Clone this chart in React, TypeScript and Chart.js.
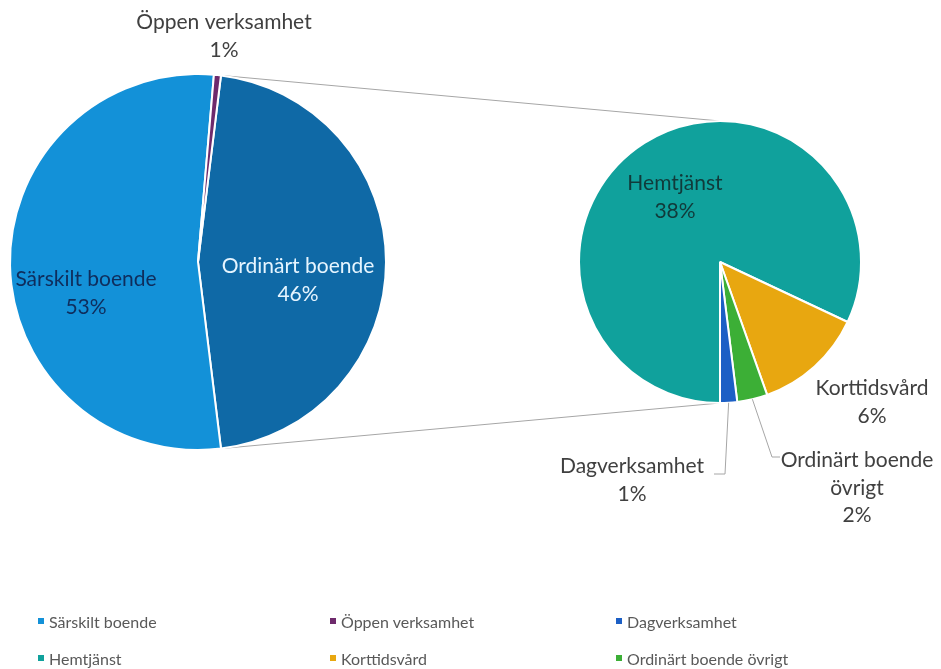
import React, { useEffect, useRef } from "react";
import { Chart, registerables } from "chart.js";

Chart.register(...registerables);

// ---- Data ----
const mainLabels = ["Ordinärt boende", "Särskilt boende", "Öppen verksamhet"];
const mainValues = [46.1, 53.3, 0.6];
const mainColors = ["#0f69a6", "#1391d8", "#6e2a6c"];

const subLabels = ["Hemtjänst", "Korttidsvård", "Ordinärt boende övrigt", "Dagverksamhet"];
const subValues = [37.8, 5.8, 1.6, 0.9];
const subColors = ["#10a19c", "#e8a710", "#3caf36", "#1c5fc5"];

const legendLabels = [
  "Särskilt boende",
  "Öppen verksamhet",
  "Dagverksamhet",
  "Hemtjänst",
  "Korttidsvård",
  "Ordinärt boende övrigt",
];
const legendColors = ["#1391d8", "#6e2a6c", "#1c5fc5", "#10a19c", "#e8a710", "#3caf36"];

// ---- Layout (not data) ----
const W = 941;
const H = 669;
const MAIN_C = { x: 198, y: 262, r: 188 };
const SUB_C = { x: 720, y: 262, r: 141 };
const FONT = "Lato, 'Open Sans', sans-serif";
const LABEL_SIZE = 21;
const LINE_H = 27.5;

type LabelLayout = { dx: number; dy: number; color: string; lines?: string[]; leader?: number[][] };

// label positions relative to pie centre, indexed like the data
const mainLabelLayout: LabelLayout[] = [
  { dx: 100, dy: 18, color: "#e6f5ff" },
  { dx: -112, dy: 31, color: "#0f2d5c" },
  { dx: 26, dy: -226, color: "#404040" },
];
const subLabelLayout: LabelLayout[] = [
  { dx: -45, dy: -65, color: "#113a3a" },
  { dx: 152, dy: 140, color: "#404040" },
  { dx: 137, dy: 226, color: "#404040", lines: ["Ordinärt boende", "övrigt"], leader: [[52, 195], [60, 195]] },
  { dx: -88, dy: 218, color: "#404040", leader: [[5, 212], [-6, 212]] },
];

function pct(v: number, total: number) {
  return Math.round((v / total) * 100) + "%";
}

function makeLabelPlugin(
  id: string,
  labels: string[],
  values: number[],
  total: number,
  layout: LabelLayout[]
) {
  return {
    id,
    afterDraw(chart: any) {
      const ctx = chart.ctx as CanvasRenderingContext2D;
      const meta = chart.getDatasetMeta(0);
      ctx.save();
      ctx.font = `${LABEL_SIZE}px ${FONT}`;
      ctx.textAlign = "center";
      ctx.textBaseline = "middle";
      meta.data.forEach((arc: any, i: number) => {
        const L = layout[i];
        const cx = arc.x;
        const cy = arc.y;
        if (L.leader) {
          const mid = (arc.startAngle + arc.endAngle) / 2;
          const r = arc.outerRadius;
          ctx.strokeStyle = "#a6a6a6";
          ctx.lineWidth = 1;
          ctx.beginPath();
          ctx.moveTo(cx + r * Math.cos(mid), cy + r * Math.sin(mid));
          L.leader.forEach((p) => ctx.lineTo(cx + p[0], cy + p[1]));
          ctx.stroke();
        }
        const lines = [...(L.lines || [labels[i]]), pct(values[i], total)];
        const y0 = cy + L.dy - ((lines.length - 1) * LINE_H) / 2;
        ctx.fillStyle = L.color;
        lines.forEach((t, k) => ctx.fillText(t, cx + L.dx, y0 + k * LINE_H));
      });
      ctx.restore();
    },
  };
}

const totalAll = mainValues.reduce((a, b) => a + b, 0);

export default function App() {
  const lineRef = useRef<HTMLCanvasElement>(null);
  const mainRef = useRef<HTMLCanvasElement>(null);
  const subRef = useRef<HTMLCanvasElement>(null);

  useEffect(() => {
    const otherShare = mainValues[0] / totalAll;
    const mainChart = new Chart(mainRef.current!, {
      type: "pie",
      data: {
        labels: mainLabels,
        datasets: [
          {
            data: mainValues,
            backgroundColor: mainColors,
            borderColor: "#ffffff",
            borderWidth: 2,
          },
        ],
      },
      options: {
        responsive: false,
        animation: false,
        rotation: 90 - otherShare * 180,
        radius: MAIN_C.r,
        layout: {
          padding: { left: 0, top: 0, right: W - 2 * MAIN_C.x, bottom: H - 2 * MAIN_C.y },
        },
        plugins: { legend: { display: false }, tooltip: { enabled: false } },
      },
      plugins: [makeLabelPlugin("mainLabels", mainLabels, mainValues, totalAll, mainLabelLayout)],
    });

    const subChart = new Chart(subRef.current!, {
      type: "pie",
      data: {
        labels: subLabels,
        datasets: [
          {
            data: subValues,
            backgroundColor: subColors,
            borderColor: "#ffffff",
            borderWidth: 2,
          },
        ],
      },
      options: {
        responsive: false,
        animation: false,
        rotation: 180,
        radius: SUB_C.r,
        layout: {
          padding: { left: 2 * SUB_C.x - W, top: 0, right: 0, bottom: H - 2 * SUB_C.y },
        },
        plugins: { legend: { display: false }, tooltip: { enabled: false } },
      },
      plugins: [makeLabelPlugin("subLabels", subLabels, subValues, totalAll, subLabelLayout)],
    });

    // connector lines between the "other" slice and the secondary pie
    const lc = lineRef.current!;
    const ctx = lc.getContext("2d")!;
    ctx.clearRect(0, 0, W, H);
    const a: any = mainChart.getDatasetMeta(0).data[0];
    const s: any = subChart.getDatasetMeta(0).data[0];
    const p1 = { x: a.x + a.outerRadius * Math.cos(a.startAngle), y: a.y + a.outerRadius * Math.sin(a.startAngle) };
    const p2 = { x: a.x + a.outerRadius * Math.cos(a.endAngle), y: a.y + a.outerRadius * Math.sin(a.endAngle) };
    const q1 = { x: s.x, y: s.y - s.outerRadius };
    const q2 = { x: s.x, y: s.y + s.outerRadius };
    ctx.strokeStyle = "#a6a6a6";
    ctx.lineWidth = 1;
    ctx.beginPath();
    ctx.moveTo(p1.x, p1.y);
    ctx.lineTo(q1.x, q1.y);
    ctx.moveTo(p2.x, p2.y);
    ctx.lineTo(q2.x, q2.y);
    ctx.stroke();

    return () => {
      mainChart.destroy();
      subChart.destroy();
    };
  }, []);

  const abs: React.CSSProperties = { position: "absolute", left: 0, top: 0 };
  const colX = [38, 330, 616];
  const rowY = [621, 658];

  return (
    <div style={{ position: "fixed", left: 0, top: 0, width: W, height: H, background: "#ffffff", overflow: "hidden" }}>
      <canvas ref={lineRef} width={W} height={H} style={abs} />
      <canvas ref={mainRef} width={W} height={H} style={abs} />
      <canvas ref={subRef} width={W} height={H} style={abs} />
      {legendLabels.map((lab, i) => {
        const col = i % 3;
        const row = Math.floor(i / 3);
        return (
          <div
            key={lab}
            style={{
              position: "absolute",
              left: colX[col],
              top: rowY[row] - 10,
              height: 20,
              display: "flex",
              alignItems: "center",
              fontFamily: FONT,
              fontSize: 16,
              color: "#595959",
              whiteSpace: "nowrap",
            }}
          >
            <span style={{ width: 6, height: 6, background: legendColors[i], marginRight: 5, display: "inline-block" }} />
            {lab}
          </div>
        );
      })}
    </div>
  );
}
